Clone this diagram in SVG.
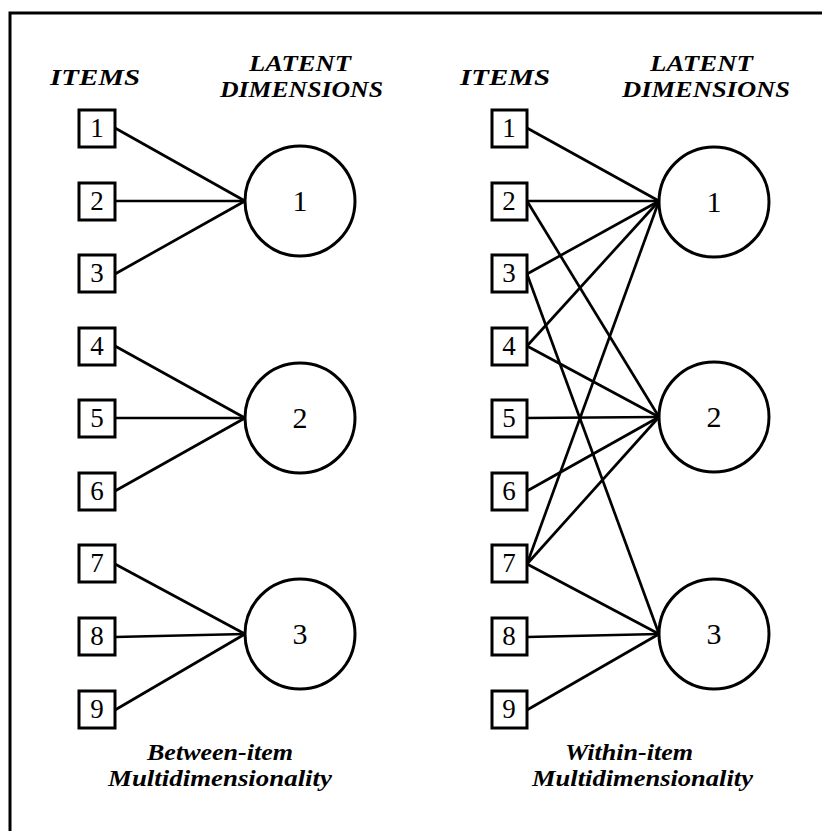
<svg xmlns="http://www.w3.org/2000/svg" width="822" height="831" viewBox="0 0 822 831">
<style>
.box{fill:#fff;stroke:#000;stroke-width:3}
.lat{fill:#fff;stroke:#000;stroke-width:3}
.num{font-family:"Liberation Serif","Times New Roman",serif;font-size:27px;text-anchor:middle;fill:#000}
.cn{font-family:"Liberation Serif","Times New Roman",serif;font-size:30px;text-anchor:middle;fill:#000}
.hd{font-family:"Liberation Serif","Times New Roman",serif;font-weight:bold;font-style:italic;font-size:24px;fill:#000}
.cap{font-family:"Liberation Serif","Times New Roman",serif;font-weight:bold;font-style:italic;font-size:23px;fill:#000}
.edge{stroke:#000;stroke-width:2.7;fill:none}
</style>
<rect x="0" y="0" width="822" height="831" fill="#fff"/>
<rect id="frame" x="10" y="13" width="840" height="840" fill="none" stroke="#000" stroke-width="3"/>
<g id="headings">
<text class="hd" x="50" y="85" textLength="90" lengthAdjust="spacingAndGlyphs">ITEMS</text>
<text class="hd" x="249" y="71" textLength="102" lengthAdjust="spacingAndGlyphs">LATENT</text>
<text class="hd" x="220" y="97" textLength="163" lengthAdjust="spacingAndGlyphs">DIMENSIONS</text>
<text class="hd" x="460" y="85" textLength="90" lengthAdjust="spacingAndGlyphs">ITEMS</text>
<text class="hd" x="650" y="71" textLength="103" lengthAdjust="spacingAndGlyphs">LATENT</text>
<text class="hd" x="622" y="97" textLength="168" lengthAdjust="spacingAndGlyphs">DIMENSIONS</text>
<text class="cap" x="147" y="760" textLength="146" lengthAdjust="spacingAndGlyphs">Between-item</text>
<text class="cap" x="108" y="786" textLength="224" lengthAdjust="spacingAndGlyphs">Multidimensionality</text>
<text class="cap" x="565" y="760" textLength="128" lengthAdjust="spacingAndGlyphs">Within-item</text>
<text class="cap" x="532" y="786" textLength="221" lengthAdjust="spacingAndGlyphs">Multidimensionality</text>
</g>
<g id="connectors">
<line class="edge" x1="115" y1="128" x2="245" y2="201"/>
<line class="edge" x1="115" y1="201" x2="245" y2="201"/>
<line class="edge" x1="115" y1="274" x2="245" y2="201"/>
<line class="edge" x1="115" y1="346" x2="245" y2="418"/>
<line class="edge" x1="115" y1="418" x2="245" y2="418"/>
<line class="edge" x1="115" y1="491" x2="245" y2="418"/>
<line class="edge" x1="115" y1="564" x2="245" y2="634"/>
<line class="edge" x1="115" y1="637" x2="245" y2="634"/>
<line class="edge" x1="115" y1="710" x2="245" y2="634"/>
<line class="edge" x1="527" y1="128" x2="659" y2="201"/>
<line class="edge" x1="527" y1="201" x2="659" y2="201"/>
<line class="edge" x1="527" y1="201" x2="659" y2="417"/>
<line class="edge" x1="527" y1="274" x2="659" y2="201"/>
<line class="edge" x1="527" y1="274" x2="659" y2="634"/>
<line class="edge" x1="527" y1="346" x2="659" y2="201"/>
<line class="edge" x1="527" y1="346" x2="659" y2="417"/>
<line class="edge" x1="527" y1="418" x2="659" y2="417"/>
<line class="edge" x1="527" y1="491" x2="659" y2="417"/>
<line class="edge" x1="527" y1="564" x2="659" y2="201"/>
<line class="edge" x1="527" y1="564" x2="659" y2="417"/>
<line class="edge" x1="527" y1="564" x2="659" y2="634"/>
<line class="edge" x1="527" y1="637" x2="659" y2="634"/>
<line class="edge" x1="527" y1="710" x2="659" y2="634"/>
</g>
<g id="L-item1"><rect class="box" x="79" y="110" width="36" height="37"/><text class="num" x="97" y="137">1</text></g>
<g id="L-item2"><rect class="box" x="79" y="183" width="36" height="37"/><text class="num" x="97" y="210">2</text></g>
<g id="L-item3"><rect class="box" x="79" y="255" width="36" height="37"/><text class="num" x="97" y="282">3</text></g>
<g id="L-item4"><rect class="box" x="79" y="328" width="36" height="37"/><text class="num" x="97" y="355">4</text></g>
<g id="L-item5"><rect class="box" x="79" y="400" width="36" height="37"/><text class="num" x="97" y="427">5</text></g>
<g id="L-item6"><rect class="box" x="79" y="473" width="36" height="37"/><text class="num" x="97" y="500">6</text></g>
<g id="L-item7"><rect class="box" x="79" y="545" width="36" height="37"/><text class="num" x="97" y="572">7</text></g>
<g id="L-item8"><rect class="box" x="79" y="618" width="36" height="37"/><text class="num" x="97" y="645">8</text></g>
<g id="L-item9"><rect class="box" x="79" y="691" width="36" height="37"/><text class="num" x="97" y="718">9</text></g>
<g id="L-dim1"><circle class="lat" cx="300" cy="201" r="55"/><text class="cn" x="300" y="211">1</text></g>
<g id="L-dim2"><circle class="lat" cx="300" cy="418" r="55"/><text class="cn" x="300" y="428">2</text></g>
<g id="L-dim3"><circle class="lat" cx="300" cy="634" r="55"/><text class="cn" x="300" y="644">3</text></g>
<g id="R-item1"><rect class="box" x="492" y="110" width="35" height="37"/><text class="num" x="509" y="137">1</text></g>
<g id="R-item2"><rect class="box" x="492" y="183" width="35" height="37"/><text class="num" x="509" y="210">2</text></g>
<g id="R-item3"><rect class="box" x="492" y="255" width="35" height="37"/><text class="num" x="509" y="282">3</text></g>
<g id="R-item4"><rect class="box" x="492" y="328" width="35" height="37"/><text class="num" x="509" y="355">4</text></g>
<g id="R-item5"><rect class="box" x="492" y="400" width="35" height="37"/><text class="num" x="509" y="427">5</text></g>
<g id="R-item6"><rect class="box" x="492" y="473" width="35" height="37"/><text class="num" x="509" y="500">6</text></g>
<g id="R-item7"><rect class="box" x="492" y="545" width="35" height="37"/><text class="num" x="509" y="572">7</text></g>
<g id="R-item8"><rect class="box" x="492" y="618" width="35" height="37"/><text class="num" x="509" y="645">8</text></g>
<g id="R-item9"><rect class="box" x="492" y="691" width="35" height="37"/><text class="num" x="509" y="718">9</text></g>
<g id="R-dim1"><circle class="lat" cx="714" cy="202" r="55"/><text class="cn" x="714" y="212">1</text></g>
<g id="R-dim2"><circle class="lat" cx="714" cy="417" r="55"/><text class="cn" x="714" y="427">2</text></g>
<g id="R-dim3"><circle class="lat" cx="714" cy="634" r="55"/><text class="cn" x="714" y="644">3</text></g>
</svg>
